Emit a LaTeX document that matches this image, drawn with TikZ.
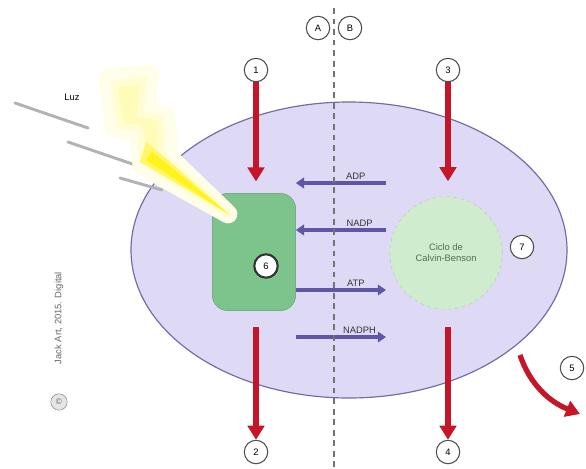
\documentclass[tikz,border=0pt]{standalone}
\usepackage{fontspec}
\setmainfont{Liberation Sans}
\usetikzlibrary{arrows.meta, positioning, calc}
\definecolor{stroma}{RGB}{222, 218, 246}
\definecolor{stromaline}{RGB}{112, 108, 165}
\definecolor{flowred}{RGB}{198, 20, 40}
\definecolor{carrier}{RGB}{96, 86, 168}
\definecolor{thyl}{RGB}{124, 196, 140}
\definecolor{calvin}{RGB}{208, 236, 206}
\definecolor{calvintext}{RGB}{78, 112, 82}

\tikzset{
  tag/.style={circle, draw=black!70, fill=white, line width=0.9pt, minimum size=20pt, inner sep=0pt, font=\footnotesize},
  flow/.style={draw=flowred, line width=4.5pt, -{Triangle[width=14pt, length=12pt]}},
  carry/.style={draw=carrier, line width=3.4pt, -{Triangle[width=9pt, length=7pt]}},
  carrylabel/.style={font=\footnotesize, text=black!80, inner sep=1.5pt},
}

\begin{document}
\begin{tikzpicture}[x=0.03cm, y=-0.03cm]
  \useasboundingbox (0,0) rectangle (586,468);

  % Stroma
  \fill[stroma] (349,250) ellipse [x radius=218, y radius=148];
  \draw[stromaline, line width=1pt] (349,250) ellipse [x radius=218, y radius=148];

  % Thylakoid and Calvin cycle
  \node[draw=thyl!80!black, fill=thyl, rounded corners=13pt, minimum width=71pt, minimum height=100pt] (ps) at (254,252) {};
  \node[circle, draw=calvin!70!gray, dashed, fill=calvin, minimum size=96pt, align=center, font=\footnotesize, text=calvintext] (cb) at (446,253) {Ciclo de\\Calvin-Benson};

  % Light rays
  \draw[gray!60, line width=2.5pt, line cap=round] (15,103) -- (88,128);
  \draw[gray!60, line width=2.5pt, line cap=round] (68,142) -- (150,170);
  \draw[gray!60, line width=2.5pt, line cap=round] (120,178) -- (162,190);
  \node[font=\footnotesize] (luz) at (72,97) {Luz};

  % Lightning bolt with glow
  \fill[yellow!14, draw=yellow!8, line width=16pt, line join=round]
    (108,78) -- (150,74) -- (146,110) -- (166,116) -- (170,158) -- (228,214) -- (142,166) -- (138,132) -- (114,128) -- cycle;
  \fill[yellow!28, draw=yellow!18, line width=6pt, line join=round]
    (114,84) -- (144,80) -- (140,114) -- (160,118) -- (162,156) -- (228,214) -- (144,162) -- (140,128) -- (120,126) -- cycle;
  \fill[yellow!60] (146,142) -- (168,160) -- (230,215) -- (140,162) -- cycle;
  \fill[yellow!90] (152,152) -- (230,215) -- (146,160) -- cycle;

  % Number tags
  \node[tag] (tA) at (318,28) {A};
  \node[tag] (tB) at (350,28) {B};
  \node[tag] (c1) at (256,70) {1};
  \node[tag] (c3) at (448,70) {3};
  \node[tag] (c2) at (256,452) {2};
  \node[tag] (c4) at (448,452) {4};
  \node[tag] (c5) at (572,368) {5};
  \node[tag, draw=black!80, line width=1.8pt] (c6) at (266,266) {6};
  \node[tag] (c7) at (522,247) {7};

  % Inputs and outputs
  \draw[flow, shorten >=10pt] (c1) -- (c1 |- ps.north);
  \draw[flow, shorten <=14pt] (c1 |- ps.south) -- (c2);
  \draw[flow, shorten >=13pt] (c3) -- (c3 |- cb.north);
  \draw[flow, shorten <=15pt] (c3 |- cb.south) -- (c4);
  \coordinate (out5) at (520,355);
  \coordinate (end5) at (580,414);
  \draw[flow] (out5) .. controls (530,385) and (550,402) .. (end5);

  % Carriers between the two stages
  \coordinate (rADP) at (330,183);
  \coordinate (rNADP) at (330,230);
  \coordinate (rATP) at (330,290);
  \coordinate (rNADPH) at (330,337);
  \draw[carry, shorten <=3pt] (cb.west |- rADP) -- (ps.east |- rADP)
    node[carrylabel, above, pos=0.36] {ADP};
  \draw[carry, shorten <=3pt] (cb.west |- rNADP) -- (ps.east |- rNADP)
    node[carrylabel, above, pos=0.32] {NADP};
  \draw[carry, shorten >=3pt] (ps.east |- rATP) -- (cb.west |- rATP)
    node[carrylabel, above, pos=0.64] {ATP};
  \draw[carry, shorten >=3pt] (ps.east |- rNADPH) -- (cb.west |- rNADPH)
    node[carrylabel, above, pos=0.68] {NADPH};

  % Divider between A and B
  \draw[black!55, line width=1.2pt, dash pattern=on 5pt off 4pt] (334,8) -- (334,468);

  % Credit
  \node[rotate=90, font=\footnotesize, text=black!60] (credit) at (59,318) {Jack Art, 2015. Digital};
  \node[circle, draw=black!50, fill=black!10, minimum size=14pt, inner sep=0pt, font=\scriptsize, text=black!60] (cc) at (59,402) {\textcopyright};
\end{tikzpicture}
\end{document}
